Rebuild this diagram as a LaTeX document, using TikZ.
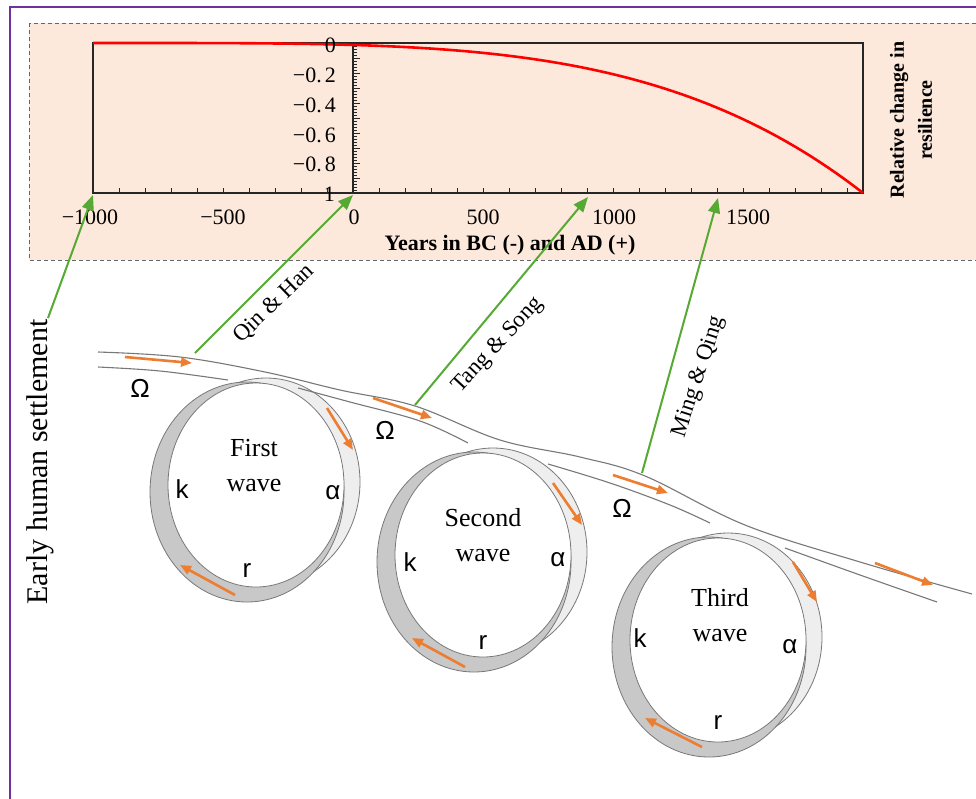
\documentclass[tikz,border=0pt]{standalone}
\usepackage{fontspec}
\setmainfont{Liberation Serif}
\newfontfamily\sansf{Liberation Sans}
\usetikzlibrary{arrows.meta}
\definecolor{peach}{RGB}{252,233,219}
\definecolor{frameviolet}{RGB}{112,48,160}
\definecolor{arrgreen}{RGB}{86,170,52}
\definecolor{arrorange}{RGB}{237,125,49}
\definecolor{darkcres}{RGB}{200,200,200}
\definecolor{lightcres}{RGB}{238,238,238}
\definecolor{bandgray}{RGB}{120,120,120}
\begin{document}
\begin{tikzpicture}[x=1pt,y=-1pt,
  greenarrow/.style={draw=arrgreen, line width=2pt, -{Triangle[length=15pt,width=12pt]}},
  orangearrow/.style={draw=arrorange, line width=2.6pt, -{Triangle[length=11pt,width=9pt]}},
  band/.style={draw=bandgray, line width=1.1pt},
  loopline/.style={draw=bandgray, line width=0.8pt},
  ticklab/.style={font=\fontsize{22}{24}\selectfont, inner sep=0pt},
  loopsym/.style={font=\sansf\fontsize{26}{28}\selectfont, inner sep=0pt},
  wavelab/.style={font=\fontsize{26}{35}\selectfont, align=center, inner sep=0pt},
  eralab/.style={font=\fontsize{23}{25}\selectfont, inner sep=0pt},
]
\useasboundingbox (0,0) rectangle (976,798);
\fill[white] (0,0) rectangle (976,798);
% frame
\draw[frameviolet, line width=2.5pt] (10,805) -- (10,7) -- (985,7);
% chart panel
\draw[dash pattern=on 4pt off 3pt, draw=black!60, line width=0.9pt, fill=peach] (29,23) rectangle (990,260);
% plot frame
\draw[black!85, line width=1.4pt] (93,43) rectangle (863,193);
\draw[black!85, line width=1.2pt] (353,43) -- (353,193);
\foreach \v in {1,...,49} {\draw[black!85, line width=0.6pt] (353,43+3*\v) -- (357,43+3*\v);}
\foreach \v in {1,...,9} {\draw[black!85, line width=0.8pt] (353,43+15*\v) -- (360,43+15*\v);}
\foreach \yr in {-900,-800,...,1900} {\draw[black!85, line width=0.8pt] ({93+0.26*(\yr+1000)},193) -- ({93+0.26*(\yr+1000)},188);}
% red curve
\draw[red, line width=2.6pt, line join=round] plot[domain=93:863, samples=90] (\x, {43+150*((\x-93)/770)^4});
% y tick labels
\node[ticklab, anchor=east] (y0) at (336,45) {0};
\node[ticklab, anchor=east] (y2) at (336,75) {−0.\hspace{3pt}2};
\node[ticklab, anchor=east] (y4) at (336,105) {−0.\hspace{3pt}4};
\node[ticklab, anchor=east] (y6) at (336,135) {−0.\hspace{3pt}6};
\node[ticklab, anchor=east] (y8) at (336,164) {−0.\hspace{3pt}8};
\node[ticklab, anchor=east] (y10) at (335,194) {1};
% x tick labels
\node[ticklab] (xm1000) at (90,217) {−1000};
\node[ticklab] (xm500) at (223,217) {−500};
\node[ticklab] (x0) at (354,217) {0};
\node[ticklab] (x500) at (483,217) {500};
\node[ticklab] (x1000) at (614,217) {1000};
\node[ticklab] (x1500) at (748,217) {1500};
\node[font=\bfseries\fontsize{22}{24}\selectfont, inner sep=0pt] (xtitle) at (510,245) {Years in BC (-) and AD (+)};
\node[font=\bfseries\fontsize{20}{28}\selectfont, align=center, rotate=90, inner sep=0pt] (ytitle) at (911,120) {Relative change in\\resilience};
% loops
\foreach \cx/\cy in {255/486, 482/556, 717/641} {
  \filldraw[fill=lightcres, loopline] (\cx+11,\cy-4) ellipse [x radius=94, y radius=104];
  \filldraw[fill=darkcres, loopline] (\cx-8,\cy+6) ellipse [x radius=97, y radius=110];
  \filldraw[fill=white, loopline] (\cx+1,\cy-1) ellipse [x radius=88, y radius=102];
}
% band
\draw[band] plot[smooth, tension=0.6] coordinates {(98,352) (180,357) (265,372) (340,390) (415,406) (500,440) (580,457) (645,476) (745,525) (860,562) (972,594)};
\draw[band] plot[smooth, tension=0.6] coordinates {(98,367) (160,371) (228,380)};
\draw[band] plot[smooth, tension=0.6] coordinates {(298,388) (350,402) (420,421) (468,443)};
\draw[band] plot[smooth, tension=0.6] coordinates {(548,464) (610,483) (670,505) (710,523)};
\draw[band] plot[smooth, tension=0.6] coordinates {(785,548) (860,575) (937,602)};
% orange arrows
\draw[orangearrow] (125,357) -- (192,363);
\draw[orangearrow] (373,398) -- (432,418);
\draw[orangearrow] (613,475) -- (668,493);
\draw[orangearrow] (875,563) -- (933,585);
\draw[orangearrow] (327,408) -- (353,450);
\draw[orangearrow] (235,595) -- (180,565);
\draw[orangearrow] (553,483) -- (582,525);
\draw[orangearrow] (465,667) -- (412,638);
\draw[orangearrow] (793,562) -- (817,602);
\draw[orangearrow] (702,747) -- (645,718);
% loop labels
\node[wavelab] (w1) at (254,466) {First\\wave};
\node[wavelab] (w2) at (483,535) {Second\\wave};
\node[wavelab] (w3) at (720,615) {Third\\wave};
\node[loopsym] (k1) at (182,489) {k};
\node[loopsym] (a1) at (333,493) {α};
\node[loopsym] (r1) at (247,570) {r};
\node[loopsym] (o1) at (140,388) {Ω};
\node[loopsym] (k2) at (410,562) {k};
\node[loopsym] (a2) at (558,560) {α};
\node[loopsym] (r2) at (483,642) {r};
\node[loopsym] (o2) at (385,430) {Ω};
\node[loopsym] (k3) at (640,638) {k};
\node[loopsym] (a3) at (790,647) {α};
\node[loopsym] (r3) at (718,722) {r};
\node[loopsym] (o3) at (622,508) {Ω};
% era labels
\node[font=\fontsize{30}{32}\selectfont, rotate=90, inner sep=0pt] (ehs) at (40,462) {Early human settlement};
\node[eralab, rotate=44] (qh) at (274,304) {Qin \& Han};
\node[eralab, rotate=47] (ts) at (498,345) {Tang \& Song};
\node[eralab, rotate=72] (mq) at (699,377) {Ming \& Qing};
% green arrows
\coordinate (g1s) at (48,318);
\coordinate (g2s) at (195,353);
\coordinate (g3s) at (415,405);
\coordinate (g4s) at (642,473);
\coordinate (t1) at (93,195);
\coordinate (t2) at (353,195);
\coordinate (t3) at (588,197);
\coordinate (t4) at (718,198);
\draw[greenarrow] (g1s) -- (t1);
\draw[greenarrow] (g2s) -- (t2);
\draw[greenarrow] (g3s) -- (t3);
\draw[greenarrow] (g4s) -- (t4);
\end{tikzpicture}
\end{document}
